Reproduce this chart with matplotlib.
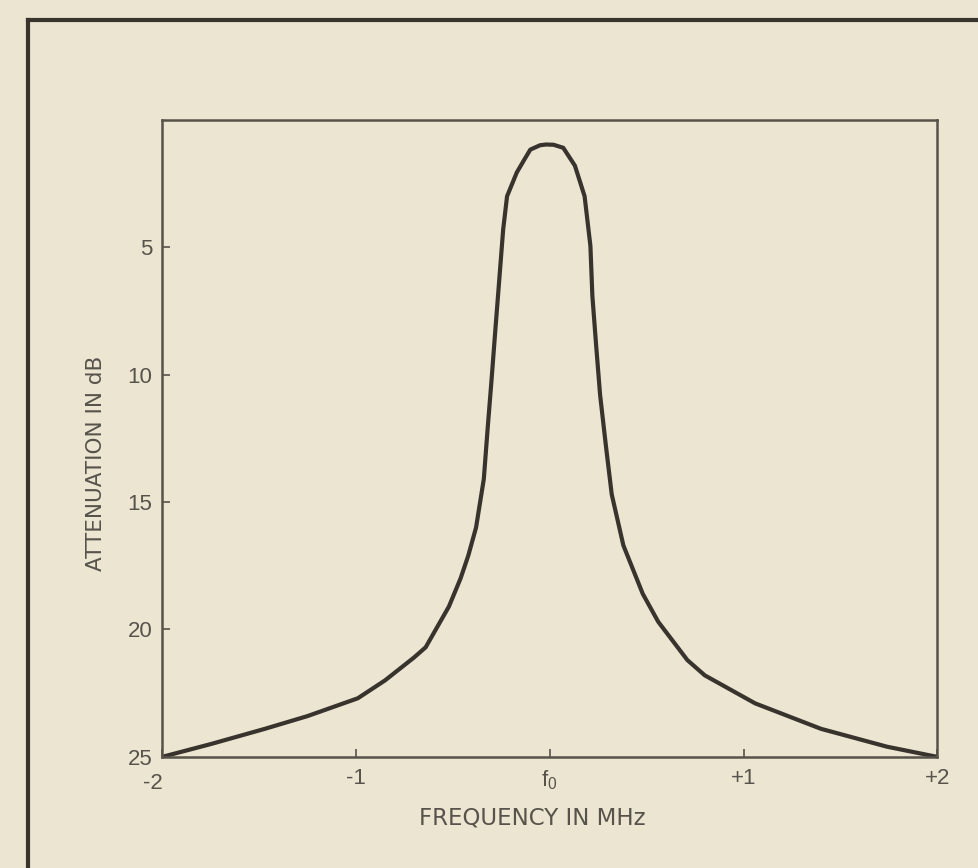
import matplotlib
matplotlib.use("Agg")
import matplotlib.pyplot as plt
from matplotlib.lines import Line2D
from matplotlib.transforms import ScaledTranslation

# values (frequency offset in MHz, attenuation in dB)
freq = [-2.0, -1.75, -1.47, -1.25, -0.99, -0.85, -0.70, -0.64, -0.58, -0.52,
        -0.46, -0.42, -0.38, -0.34, -0.32, -0.30, -0.28, -0.26, -0.24, -0.22,
        -0.17, -0.13, -0.10, -0.05, -0.02, 0.02, 0.07, 0.13, 0.18, 0.21,
        0.22, 0.24, 0.26, 0.29, 0.32, 0.38, 0.48, 0.56, 0.63, 0.71,
        0.80, 1.06, 1.40, 1.74, 2.0]
atten = [25.0, 24.5, 23.9, 23.4, 22.7, 22.0, 21.1, 20.7, 19.9, 19.1,
         18.0, 17.1, 16.0, 14.1, 12.1, 10.2, 8.2, 6.25, 4.3, 3.0,
         2.07, 1.55, 1.17, 1.0, 0.97, 0.98, 1.1, 1.8, 3.0, 4.95,
         6.9, 8.9, 10.8, 12.8, 14.7, 16.7, 18.6, 19.7, 20.4, 21.2,
         21.8, 22.9, 23.9, 24.6, 25.0]

x_ticks = [-2, -1, 0, 1, 2]
x_labels = ["-2", "-1", "f$_0$", "+1", "+2"]
y_ticks = [5, 10, 15, 20, 25]
y_labels = ["5", "10", "15", "20", "25"]

paper = "#ece5d2"
ink = "#38342d"
grey = "#57534a"

plt.rcParams["font.family"] = ["Liberation Sans", "DejaVu Sans"]
plt.rcParams["mathtext.fontset"] = "custom"
plt.rcParams["mathtext.rm"] = "Liberation Sans"
plt.rcParams["mathtext.it"] = "Liberation Sans"

fig = plt.figure(figsize=(9.79, 8.68), dpi=100, facecolor=paper)
ax = fig.add_axes([0.1655, 0.128, 0.792, 0.734])
ax.set_facecolor(paper)

ax.plot(freq, atten, color=ink, linewidth=3.0,
        solid_capstyle="round", solid_joinstyle="round")

ax.set_xlim(-2, 2)
ax.set_ylim(25, 0)

ax.set_xticks(x_ticks)
ax.set_xticklabels(x_labels)
ax.set_yticks(y_ticks)
ax.set_yticklabels(y_labels)
ax.tick_params(direction="in", length=6, width=1.2, color=grey,
               labelcolor=grey, labelsize=16)
ax.tick_params(axis="x", pad=8)
ax.tick_params(axis="y", pad=7)

# the "-2" label sits tucked under the "25" in the original
lbl = ax.get_xticklabels()[0]
lbl.set_transform(lbl.get_transform() + ScaledTranslation(-9 / 100, -5 / 100, fig.dpi_scale_trans))

for s in ax.spines.values():
    s.set_color(grey)
    s.set_linewidth(1.8)

ax.set_xlabel("FREQUENCY IN MHz", fontsize=16.5, color=grey,
              family="DejaVu Sans", va="center")
ax.xaxis.set_label_coords(0.477, -0.096)
ax.set_ylabel("ATTENUATION IN dB", fontsize=15.5, color=grey,
              family="DejaVu Sans", va="center")
ax.yaxis.set_label_coords(-0.085, 0.46)

# outer frame of the printed figure box
fig.add_artist(Line2D([28 / 979, 1.0], [1 - 20 / 868, 1 - 20 / 868],
                      transform=fig.transFigure, color=ink, linewidth=3))
fig.add_artist(Line2D([28 / 979, 28 / 979], [0.0, 1 - 20 / 868],
                      transform=fig.transFigure, color=ink, linewidth=3))

plt.savefig("out.png", dpi=100, facecolor=paper)
